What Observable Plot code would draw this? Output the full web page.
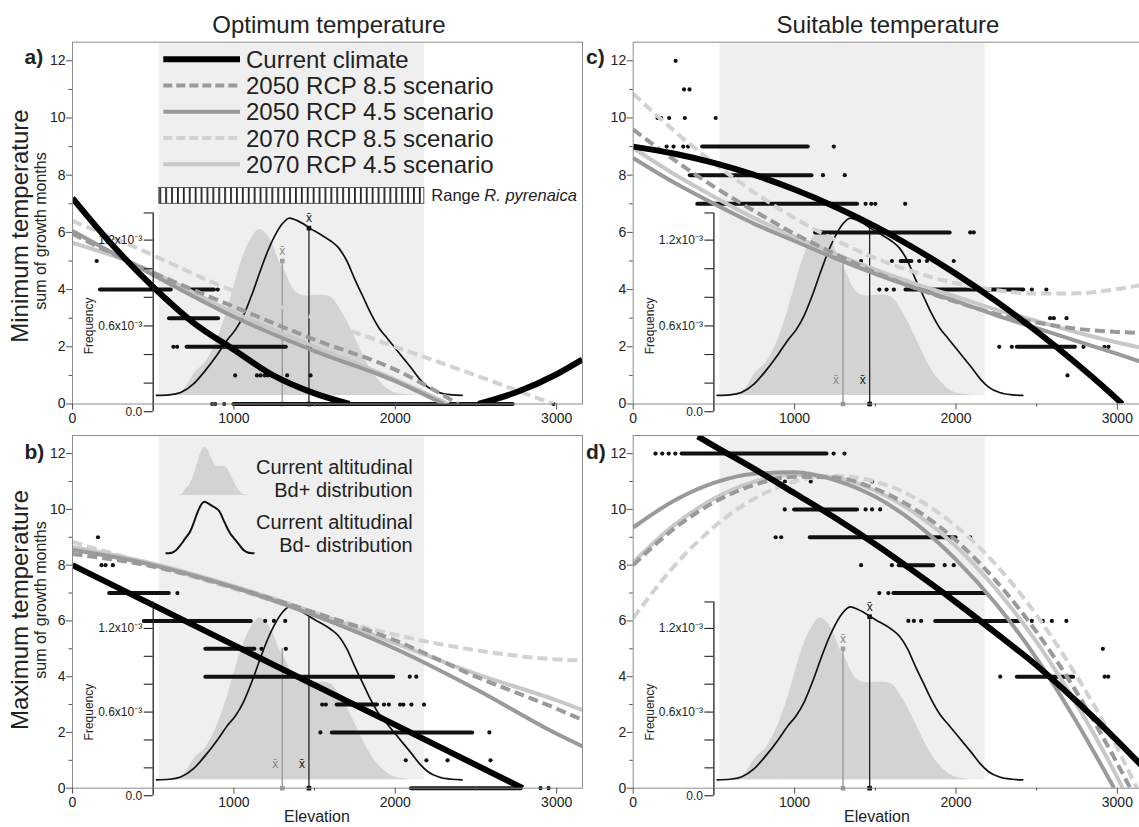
<!DOCTYPE html>
<html>
<head>
<meta charset="utf-8">
<script src="https://cdn.jsdelivr.net/npm/d3@7"></script>
<script src="https://cdn.jsdelivr.net/npm/@observablehq/plot@0.6"></script>
<style>
  html, body { margin:0; padding:0; background:#fff; overflow:hidden; }
  #root { position:relative; width:1139px; height:827px; overflow:hidden; background:#fff; }
  .panel { position:absolute; }
  .panel svg { overflow:visible; max-width:none !important; }
</style>
</head>
<body>
<svg width="0" height="0" style="position:absolute">
  <defs>
    <pattern id="hatch" patternUnits="userSpaceOnUse" width="5.9" height="20">
      <rect width="5.9" height="20" fill="#fff"/>
      <rect x="0" width="1.8" height="20" fill="#222"/>
    </pattern>
  </defs>
</svg>
<div id="root"></div>
<script>
// ---------------- DATA ----------------
const xTicks = [0, 1000, 2000, 3000];
const xMinorTicks = [500, 1500, 2500];
const yTicks = [0, 2, 4, 6, 8, 10, 12];
const yMinorTicks = [1, 3, 5, 7, 9, 11];
const freqTicks = [0, 0.2, 0.4, 0.6, 0.8, 1.0, 1.2];
const freqLabelValues = [0, 0.6, 1.2];
const freqTickLabels = ["0.0", "0.6x10\u207B\u00B3", "1.2x10\u207B\u00B3"];
const freqAxisTop = 1.39;
const freqAxisElevation = 500;

const seriesNames = ["Current climate", "2050 RCP 8.5 scenario", "2050 RCP 4.5 scenario", "2070 RCP 8.5 scenario", "2070 RCP 4.5 scenario"];
const rangeRpyrenaica = [538, 2180];

// altitudinal distributions (frequency, x10^-3)
const bdPlusElev = [600,680,760,830,900,960,1010,1060,1110,1160,1200,1240,1280,1320,1360,1400,1450,1500,1560,1610,1660,1710,1760,1810,1860,1910,1960,2030,2150];
const bdPlusFreq = [0.114,0.144,0.274,0.354,0.514,0.714,0.914,1.094,1.214,1.274,1.244,1.174,1.054,0.974,0.874,0.824,0.81,0.814,0.814,0.794,0.714,0.614,0.494,0.374,0.274,0.204,0.154,0.124,0.114];
const bdMinusElev = [520,600,670,750,820,900,960,1010,1060,1110,1160,1210,1260,1300,1345,1390,1430,1470,1530,1600,1650,1700,1750,1800,1850,1900,1950,2000,2050,2100,2150,2200,2270,2350,2414];
const bdMinusFreq = [0.114,0.118,0.134,0.194,0.284,0.404,0.504,0.574,0.674,0.814,0.974,1.124,1.244,1.314,1.354,1.338,1.314,1.284,1.244,1.194,1.144,1.054,0.924,0.804,0.684,0.584,0.514,0.444,0.374,0.304,0.23,0.174,0.134,0.118,0.114];
const meanElevation = [1300, 1465];     // Bd+, Bd-
const meanTopFreq = [1.054, 1.284];

// Panel a: optimum / minimum temperature
const aCurElev  = [0,250,500,750,1000,1250,1500,1716,2100,2515,2750,3000,3158];
const aCurVal   = [7.2,5.54,4.09,2.84,1.9,0.98,0.37,0,null,0,0.41,1.04,1.55];
const a5085Elev = [0,340,1000,1500,2000,2390];
const a5085Val  = [5.95,5.0,3.4,2.25,1.2,0];
const a5045Elev = [0,340,1000,1500,2000,2300];
const a5045Val  = [6.05,5.0,3.05,1.85,0.8,0];
const a7085Elev = [0,340,1000,1500,2000,2500,2980];
const a7085Val  = [6.4,5.6,3.95,3.0,2.0,1.0,0];
const a7045Elev = [0,340,1000,1500,2000,2330];
const a7045Val  = [5.64,5.0,3.2,2.0,0.85,0];
const aDots = [[150,5],[900,4],[625,2],[648,2],[1458,2],[1475,2],[1008,1],[1143,1],[1165,1],[1190,1],[1210,1],[1245,1],[1330,1],[1475,1],[865,0],[885,0],[940,0],[2980,0]];
const aRuns = [[4,173,612],[4,736,880],[3,601,905],[2,710,1325],[0,1000,2730]];

// Panel b: optimum / maximum temperature
const bCurElev = [0,1000,2000,2790];
const bCurVal  = [8.0,5.13,2.27,0];
const bElev    = [0,500,1000,1500,2000,2500,3000,3160];
const b5085Val = [8.4,7.95,7.2,6.3,5.3,4.0,2.85,2.45];
const b5045Val = [8.55,8.0,7.2,6.2,5.0,3.55,1.95,1.5];
const b7085Val = [8.83,8.0,7.15,6.25,5.5,4.95,4.62,4.58];
const b7045Val = [8.65,8.05,7.25,6.3,5.2,4.1,3.15,2.8];
const bDots = [[158,9],[180,8],[205,8],[250,8],[650,7],[1194,6],[1248,6],[1318,6],[1171,5],[1322,5],[2090,4],[2130,4],[1547,3],[1570,3],[1930,3],[1960,3],[2030,3],[2050,3],[2100,3],[2178,3],[1536,2],[2583,2],[2065,1],[2193,1],[2324,1],[2590,1],[2900,0],[2950,0]];
const bRuns = [[7,230,600],[6,445,1108],[5,826,1130],[4,826,1990],[3,1640,1890],[2,1610,2480],[0,2100,2780]];

// Panel c: suitable / minimum temperature
const cElev    = [0,250,500,750,1000,1250,1500,1750,2000,2250,2500,2750,3000,3160];
const cCurElev = [0,250,500,750,1000,1250,1500,1750,2000,2250,2500,2750,3000,3030];
const cCurVal  = [9.0,8.76,8.43,8.01,7.5,6.9,6.21,5.42,4.55,3.59,2.54,1.4,0.16,0];
const c5085Val = [9.6,8.55,7.6,6.75,5.95,5.25,4.6,4.05,3.57,3.15,2.85,2.63,2.52,2.48];
const c5045Val = [8.6,7.75,7.0,6.3,5.7,5.1,4.55,4.05,3.6,3.1,2.65,2.2,1.75,1.45];
const c7085Val = [10.85,9.57,8.42,7.4,6.5,5.74,5.1,4.6,4.22,3.98,3.86,3.87,4.02,4.17];
const c7045Val = [8.95,8.05,7.25,6.5,5.85,5.25,4.7,4.2,3.75,3.3,2.9,2.5,2.15,1.95];
const cDots = [[263,12],[315,11],[349,11],[151,10],[173,10],[223,10],[320,10],[511,10],[207,9],[250,9],[310,9],[340,9],[1243,9],[1176,8],[1311,8],[1440,7],[1475,7],[1500,7],[1685,7],[2088,6],[2110,6],[1412,5],[1603,5],[1772,5],[1820,5],[1865,5],[1986,5],[1525,4],[1570,4],[1615,4],[2470,4],[2560,4],[2583,3],[2606,3],[2685,3],[2268,2],[2346,2],[2790,2],[2920,2],[2945,2],[2691,1]];
const cRuns = [[9,430,1085],[8,354,1108],[7,400,1390],[6,1130,1964],[5,1660,1727],[4,1690,2420],[2,2380,2740]];

// Panel d: suitable / maximum temperature
const dCurElev  = [400,500,750,1000,1250,1500,1750,2000,2250,2500,2750,3000,3160];
const dCurVal   = [12.62,12.28,11.45,10.58,9.7,8.75,7.73,6.67,5.55,4.4,3.1,1.7,0.75];
const d5085Elev = [0,250,500,750,1000,1250,1500,1750,2000,2250,2500,2750,3000,3080];
const d5085Val  = [8.0,9.29,10.25,10.88,11.17,11.14,10.74,9.99,8.89,7.42,5.6,3.42,0.88,0];
const d5045Elev = [0,250,500,750,1000,1250,1500,1750,2000,2250,2500,2750,2980];
const d5045Val  = [9.35,10.3,10.95,11.28,11.33,11.05,10.45,9.5,8.2,6.6,4.65,2.35,0];
const d7085Elev = [0,250,500,750,1000,1250,1500,1750,2000,2250,2500,2750,3000,3120];
const d7085Val  = [6.1,7.94,9.37,10.38,11.0,11.2,11.0,10.4,9.4,8.0,6.2,4.0,1.44,0];
const d7045Elev = [0,250,500,750,1000,1250,1500,1750,2000,2250,2500,2750,3000,3033];
const d7045Val  = [8.1,9.42,10.38,10.99,11.24,11.14,10.67,9.85,8.67,7.13,5.24,2.98,0.38,0];
const dDots = [[138,12],[180,12],[220,12],[261,12],[1242,12],[1309,12],[940,11],[1000,11],[1100,11],[1480,11],[939,10],[1440,10],[1480,10],[1530,10],[883,9],[917,9],[2088,9],[1412,8],[1603,8],[1930,8],[1986,8],[1525,7],[1581,7],[1705,6],[1739,6],[1784,6],[2470,6],[2538,6],[2594,6],[2684,6],[2910,5],[2274,4],[2921,4],[2943,4]];
const dRuns = [[12,303,1201],[10,1000,1390],[9,1097,2000],[8,1648,1862],[7,1615,2189],[6,1874,2403],[4,2380,2729]];

// ---------------- STYLE ----------------
const FONT = '"Liberation Sans", Arial, Helvetica, sans-serif';
const seriesStroke = ["#000000", "#9a9a9a", "#9a9a9a", "#d2d2d2", "#c8c8c8"];
const seriesDashed = [false, true, false, true, false];
const seriesWidth  = [6, 4, 4, 4, 4];
const drawOrder = [3, 4, 1, 2, 0];
const XMAX = 3160, YMAX = 12.65, FRAME_W = 510;
const fToY = f => -0.27 + 5.0 * f;
const rows = (elev, vals) => elev.map((e, i) => ({x: e, y: vals[i]}));

function buildPanel(p) {
  const pxX = FRAME_W / XMAX;
  const pxY = (p.y0 - p.top) / YMAX;
  const ex = px => px / pxX, ey = px => px / pxY;
  const plusRows = rows(bdPlusElev, bdPlusFreq.map(fToY));
  const minusRows = rows(bdMinusElev, bdMinusFreq.map(fToY));
  const base = fToY(d3.min(bdPlusFreq));
  const meanP = [{x: meanElevation[0], top: fToY(meanTopFreq[0])}];
  const meanM = [{x: meanElevation[1], top: fToY(meanTopFreq[1])}];

  const marks = [
    Plot.rect([rangeRpyrenaica], {x1: d => d[0], x2: d => d[1], y1: base, y2: YMAX - ey(1.5), fill: "#efefef"}),
    Plot.areaY(plusRows, {x: "x", y1: base, y2: "y", fill: "#d3d3d3", curve: "monotone-x"}),
    Plot.line(minusRows, {x: "x", y: "y", stroke: "#111", strokeWidth: 1.7, curve: "monotone-x"}),
    Plot.ruleX(meanP, {x: "x", y1: 0, y2: "top", stroke: "#9e9e9e", strokeWidth: 1.5}),
    Plot.ruleX(meanM, {x: "x", y1: 0, y2: "top", stroke: "#222", strokeWidth: 1.3}),
    Plot.dot(meanP, {x: "x", y: 0, symbol: "square", r: 2.6, fill: "#9e9e9e"}),
    Plot.dot(meanM, {x: "x", y: 0, symbol: "square", r: 2.6, fill: "#111"})
  ];
  if (p.xbarTop) {
    marks.push(
      Plot.dot(meanP, {x: "x", y: "top", symbol: "square", r: 2.6, fill: "#9e9e9e"}),
      Plot.dot(meanM, {x: "x", y: "top", symbol: "square", r: 2.6, fill: "#111"}),
      Plot.text(meanP, {x: "x", y: "top", text: () => "x\u0304", dy: -10, fontSize: 12, fill: "#888"}),
      Plot.text(meanM, {x: "x", y: "top", text: () => "x\u0304", dy: -10, fontSize: 12, fill: "#222"})
    );
  } else {
    marks.push(
      Plot.text(meanP, {x: "x", y: 0, text: () => "x\u0304", dx: -7, dy: -24, fontSize: 12, fill: "#888"}),
      Plot.text(meanM, {x: "x", y: 0, text: () => "x\u0304", dx: -7, dy: -24, fontSize: 12, fill: "#222"})
    );
  }
  // scatter
  marks.push(
    Plot.ruleY(p.runs, {y: d => d[0], x1: d => d[1], x2: d => d[2], stroke: "#111", strokeWidth: 4, strokeLinecap: "round"}),
    Plot.dot(p.dots, {x: d => d[0], y: d => d[1], r: 2.1, fill: "#111"})
  );
  // model curves
  for (const k of drawOrder) {
    marks.push(Plot.line(p.series[k], {
      x: "x", y: "y", stroke: seriesStroke[k], strokeWidth: seriesWidth[k],
      ...(seriesDashed[k] ? {strokeDasharray: "10,5"} : {}),
      strokeLinecap: "butt", curve: "monotone-x", clip: true
    }));
  }
  if (p.hatch) {
    marks.push(
      Plot.rect([rangeRpyrenaica], {x1: d => d[0], x2: d => d[1], y1: 7.0, y2: 7.55, fill: "url(#hatch)", stroke: "#333", strokeWidth: 0.8}),
      Plot.text(["Range "], {x: rangeRpyrenaica[1], y: 7.28, dx: 7, textAnchor: "start", fontSize: 16.5, fill: "#222"}),
      Plot.text(["R. pyrenaica"], {x: rangeRpyrenaica[1], y: 7.28, dx: 7 + 53, textAnchor: "start", fontSize: 16.5, fontStyle: "italic", fill: "#222"})
    );
  }
  // frequency inset axis
  marks.push(
    Plot.ruleX([freqAxisElevation], {y1: fToY(0), y2: fToY(freqAxisTop), stroke: "#222", strokeWidth: 1.3}),
    Plot.ruleY([...freqTicks, freqAxisTop], {y: f => fToY(f), x1: freqAxisElevation - ex(9), x2: freqAxisElevation, stroke: "#222", strokeWidth: 1.1}),
    Plot.text(freqLabelValues, {x: freqAxisElevation, y: f => fToY(f), text: (f, i) => freqTickLabels[i], dx: -11, textAnchor: "end", fontSize: 12, fill: "#222"}),
    Plot.text(["Frequency"], {x: freqAxisElevation, y: fToY(0.6), rotate: -90, dx: -64, fontSize: 12, fill: "#222"})
  );
  // frame and axes
  marks.push(
    Plot.frame({stroke: "#8c8c8c"}),
    Plot.ruleY(yTicks, {x1: -ex(6), x2: 0, stroke: "#555"}),
    Plot.ruleY(yMinorTicks, {x1: -ex(3.5), x2: 0, stroke: "#555"}),
    Plot.text(yTicks, {x: 0, y: d => d, text: d => String(d), dx: -7, textAnchor: "end", fontSize: 14, fill: "#222"}),
    Plot.ruleX(xTicks, {y1: 0, y2: -ey(6), stroke: "#555"}),
    Plot.ruleX(xMinorTicks, {y1: 0, y2: -ey(3), stroke: "#555"}),
    Plot.text(xTicks, {x: d => d, y: 0, text: d => String(d), dy: 14.5, fontSize: 14, fill: "#222"})
  );

  const svg = Plot.plot({
    width: p.svgW, height: p.svgH,
    marginLeft: p.left - p.svgLeft,
    marginRight: p.svgLeft + p.svgW - (p.left + FRAME_W),
    marginTop: p.top - p.svgTop,
    marginBottom: p.svgTop + p.svgH - p.y0,
    x: {domain: [0, XMAX], axis: null},
    y: {domain: [0, YMAX], axis: null},
    style: {background: "transparent", fontFamily: FONT, overflow: "visible", color: "#222"},
    marks
  });
  const div = document.createElement("div");
  div.className = "panel";
  div.style.left = p.svgLeft + "px";
  div.style.top = p.svgTop + "px";
  div.style.width = p.svgW + "px";
  div.style.height = p.svgH + "px";
  div.appendChild(svg);
  document.getElementById("root").appendChild(div);
}

const panels = [
  {svgLeft: 0, svgTop: 0, svgW: 600, svgH: 440, left: 72, top: 41.7, y0: 403.5, xbarTop: true, hatch: true,
   series: [rows(aCurElev, aCurVal), rows(a5085Elev, a5085Val), rows(a5045Elev, a5045Val), rows(a7085Elev, a7085Val), rows(a7045Elev, a7045Val)],
   dots: aDots, runs: aRuns},
  {svgLeft: 560, svgTop: 0, svgW: 590, svgH: 440, left: 632.7, top: 41.7, y0: 403.5, xbarTop: false,
   series: [rows(cCurElev, cCurVal), rows(cElev, c5085Val), rows(cElev, c5045Val), rows(cElev, c7085Val), rows(cElev, c7045Val)],
   dots: cDots, runs: cRuns},
  {svgLeft: 0, svgTop: 420, svgW: 600, svgH: 407, left: 72, top: 435, y0: 787.7, xbarTop: false,
   series: [rows(bCurElev, bCurVal), rows(bElev, b5085Val), rows(bElev, b5045Val), rows(bElev, b7085Val), rows(bElev, b7045Val)],
   dots: bDots, runs: bRuns},
  {svgLeft: 560, svgTop: 420, svgW: 590, svgH: 407, left: 632.7, top: 435, y0: 787.7, xbarTop: true,
   series: [rows(dCurElev, dCurVal), rows(d5085Elev, d5085Val), rows(d5045Elev, d5045Val), rows(d7085Elev, d7085Val), rows(d7045Elev, d7045Val)],
   dots: dDots, runs: dRuns}
];
panels.forEach(buildPanel);

// ---------------- overlay: titles, axis titles, legends ----------------
const ov = d3.select("#root").append("svg")
  .attr("width", 1139).attr("height", 827)
  .style("position", "absolute").style("left", "0px").style("top", "0px")
  .attr("font-family", FONT).attr("fill", "#222");

ov.append("text").attr("x", 329).attr("y", 33).attr("text-anchor", "middle").attr("font-size", 24).text("Optimum temperature");
ov.append("text").attr("x", 888).attr("y", 33).attr("text-anchor", "middle").attr("font-size", 24).text("Suitable temperature");

[["Minimum temperature", 28, 226, 24], ["sum of growth months", 46, 231, 16],
 ["Maximum temperature", 28, 610, 24], ["sum of growth months", 46, 600, 16]].forEach(([t, x, y, s]) => {
  ov.append("text").attr("transform", `translate(${x},${y}) rotate(-90)`).attr("text-anchor", "middle")
    .attr("font-size", s).text(t);
});
[["a)", 24.5, 64], ["b)", 24.5, 459], ["c)", 586, 64], ["d)", 586, 459]].forEach(([t, x, y]) => {
  ov.append("text").attr("x", x).attr("y", y).attr("font-size", 21).attr("font-weight", "bold").text(t);
});
ov.append("text").attr("x", 317).attr("y", 822).attr("text-anchor", "middle").attr("font-size", 16).text("Elevation");
ov.append("text").attr("x", 877).attr("y", 822).attr("text-anchor", "middle").attr("font-size", 16).text("Elevation");

// legend of model curves (panel a)
seriesNames.forEach((name, i) => {
  const y = 59.3 + i * 26.25;
  ov.append("line").attr("x1", 163.3).attr("x2", 240).attr("y1", y).attr("y2", y)
    .attr("stroke", seriesStroke[i]).attr("stroke-width", seriesWidth[i])
    .attr("stroke-dasharray", seriesDashed[i] ? "9,4" : null);
  ov.append("text").attr("x", 246).attr("y", y).attr("dominant-baseline", "central")
    .attr("font-size", 24).text(name);
});

// legend of distributions (panel b)
const icoPX = d3.scaleLinear().domain(d3.extent(bdPlusElev)).range([178, 251]);
const icoPY = d3.scaleLinear().domain(d3.extent(bdPlusFreq)).range([495, 446.7]);
ov.append("path")
  .attr("d", d3.area().x((d, i) => icoPX(bdPlusElev[i])).y0(495).y1(d => icoPY(d)).curve(d3.curveMonotoneX)(bdPlusFreq))
  .attr("fill", "#d3d3d3");
const icoMX = d3.scaleLinear().domain(d3.extent(bdMinusElev)).range([165.5, 254.5]);
const icoMY = d3.scaleLinear().domain(d3.extent(bdMinusFreq)).range([553.3, 501.7]);
ov.append("path")
  .attr("d", d3.line().x((d, i) => icoMX(bdMinusElev[i])).y(d => icoMY(d)).curve(d3.curveMonotoneX)(bdMinusFreq))
  .attr("fill", "none").attr("stroke", "#111").attr("stroke-width", 2);
[["Current altitudinal", 466.7], ["Bd+ distribution", 490], ["Current altitudinal", 521.7], ["Bd- distribution", 545]].forEach(([t, y]) => {
  ov.append("text").attr("x", 412.7).attr("y", y).attr("text-anchor", "end").attr("dominant-baseline", "central")
    .attr("font-size", 20).text(t);
});
</script>
</body>
</html>
